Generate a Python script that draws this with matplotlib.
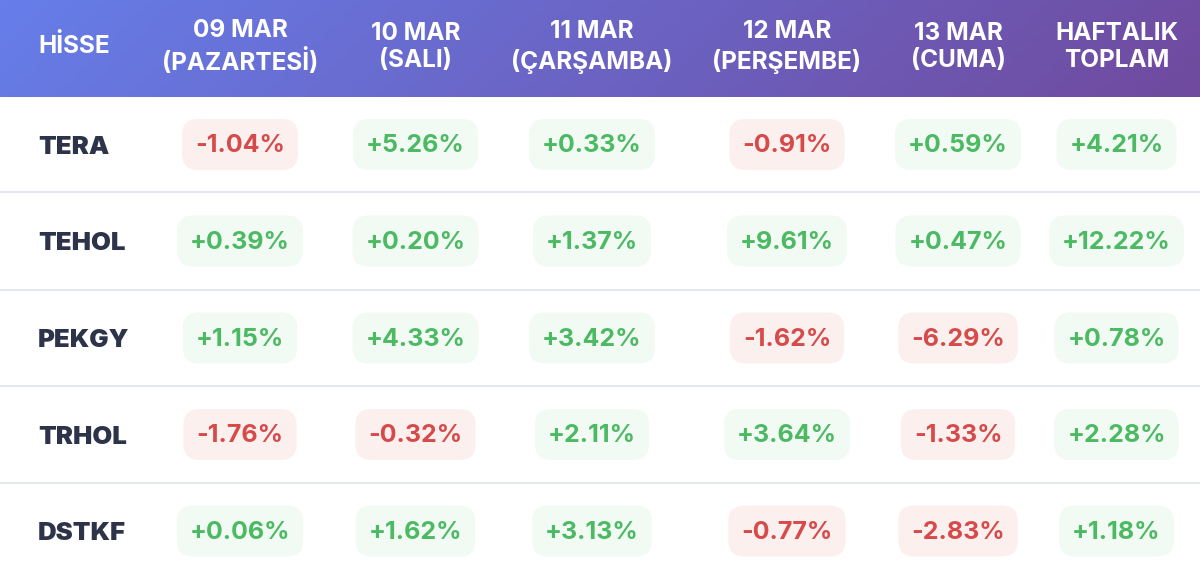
import numpy as np
import matplotlib
matplotlib.use('Agg')
import matplotlib.pyplot as plt
from matplotlib.patches import FancyBboxPatch

plt.rcParams['font.family'] = ['Inter', 'DejaVu Sans']

headers = ['09 MAR\n(PAZARTESİ)', '10 MAR\n(SALI)', '11 MAR\n(ÇARŞAMBA)',
           '12 MAR\n(PERŞEMBE)', '13 MAR\n(CUMA)', 'HAFTALIK\nTOPLAM']
first_header = 'HİSSE'
stocks = ['TERA', 'TEHOL', 'PEKGY', 'TRHOL', 'DSTKF']

tera = [-1.04, 5.26, 0.33, -0.91, 0.59, 4.21]
tehol = [0.39, 0.20, 1.37, 9.61, 0.47, 12.22]
pekgy = [1.15, 4.33, 3.42, -1.62, -6.29, 0.78]
trhol = [-1.76, -0.32, 2.11, 3.64, -1.33, 2.28]
dstkf = [0.06, 1.62, 3.13, -0.77, -2.83, 1.18]
rows = [tera, tehol, pekgy, trhol, dstkf]

# layout in pixels
W, H = 1200, 577
head_h = 97
col_x = [240, 415.5, 592, 787, 958, 1116.5]
row_y = [144.5, 241, 338, 434.5, 531]
sep_y = [192, 289.5, 386, 483]
pill_h = 51
pad = 13

fig = plt.figure(figsize=(W / 100, H / 100), dpi=100)
ax = fig.add_axes([0, 0, 1, 1])
ax.set_xlim(0, W)
ax.set_ylim(H, 0)
ax.axis('off')

# header gradient, 135deg css style
xx, yy = np.meshgrid(np.linspace(0, W, 300), np.linspace(0, head_h, 30))
t = (xx + yy) / (W + head_h)
c1 = np.array([0x66, 0x7e, 0xea]) / 255
c2 = np.array([0x70, 0x4a, 0x9e]) / 255
grad = c1[None, None, :] * (1 - t[..., None]) + c2[None, None, :] * t[..., None]
ax.imshow(grad, extent=[0, W, head_h, 0], aspect='auto', zorder=1)
ax.set_xlim(0, W)
ax.set_ylim(H, 0)

ax.text(38, 46, first_header, color='white', fontsize=17.5, fontweight='bold',
        ha='left', va='center', zorder=3)
for x, h in zip(col_x, headers):
    ax.text(x, 47, h, color='white', fontsize=17.5, fontweight='bold', ha='center',
            va='center', linespacing=1.27, multialignment='center', zorder=3)

for y in sep_y:
    ax.axhline(y, color='#e4e7ee', lw=1.5, zorder=1)

renderer = fig.canvas.get_renderer()
for y, name, vals in zip(row_y, stocks, rows):
    ax.text(38, y + 2.5, name, color='#2d3348', fontsize=18.5, fontweight='black',
            ha='left', va='center', zorder=3)
    for x, v in zip(col_x, vals):
        up = v >= 0
        txt = ax.text(x, y + 1.5, f'{v:+.2f}%', color='#4cb963' if up else '#d64a4a',
                      fontsize=18, fontweight='bold', ha='center', va='center', zorder=3)
        w = txt.get_window_extent(renderer).width + 2 * pad
        r = 16
        ax.add_patch(FancyBboxPatch((x - w / 2 + r, y - pill_h / 2 + r), w - 2 * r, pill_h - 2 * r,
                                    boxstyle=f'round,pad={r},rounding_size={r}',
                                    fc='#f1faf3' if up else '#fcf0ef', ec='none', zorder=2))

fig.savefig('out.png', dpi=100)
